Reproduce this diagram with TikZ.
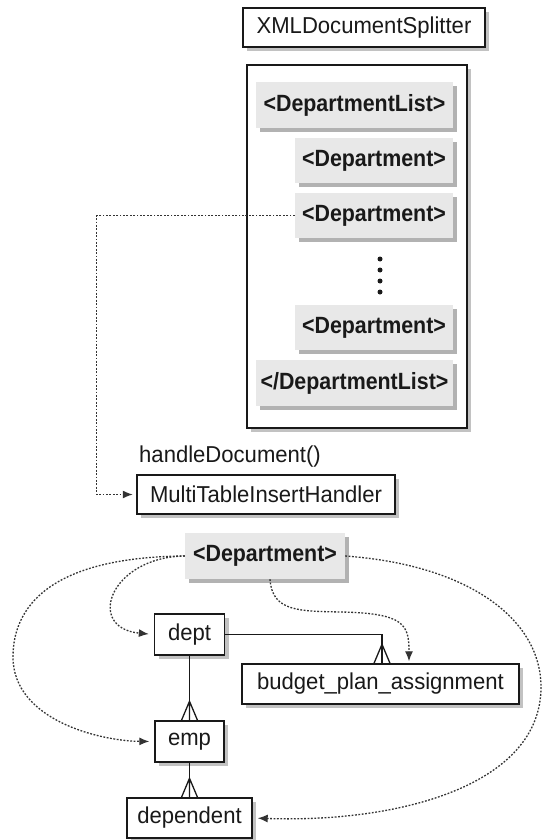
\documentclass[tikz,border=0pt]{standalone}
\usepackage{fontspec}
\setmainfont{Liberation Sans}[FakeStretch=0.96]
\newfontfamily\tagfont{Liberation Sans}[FakeStretch=0.91]
\usetikzlibrary{shadows,arrows.meta,calc}
\newcommand{\crowfoot}[1]{\draw[rel] ($(#1)+(-8,0)$) -- ($(#1)+(0,-19)$) -- ($(#1)+(8,0)$) (#1) -- ($(#1)+(0,-19)$);}
\begin{document}
\begin{tikzpicture}[x=1pt,y=-1pt,
  plainbox/.style={draw=black!90, line width=1.4pt, fill=white, inner sep=0pt, text=black!90,
    font=\fontsize{23}{26}\selectfont,
    drop shadow={shadow xshift=4pt,shadow yshift=-4pt,opacity=1,fill=black!24}},
  thickbox/.style={plainbox, line width=2.5pt},
  tagbox/.style={fill=black!9, inner sep=0pt, text=black!90,
    font=\tagfont\bfseries\fontsize{23.5}{26}\selectfont,
    drop shadow={shadow xshift=4pt,shadow yshift=-4pt,opacity=1,fill=black!30}},
  dotline/.style={line width=1.3pt, black!80, dash pattern=on 1.8pt off 1.6pt},
  dotarrow/.style={dotline, -{Latex[length=10pt,width=8pt]}, shorten >=5pt},
  rel/.style={line width=1.3pt, black!90},
  lbl/.style={inner sep=0pt, text=black!90, font=\fontsize{23}{26}\selectfont}
]
\useasboundingbox (0,0) rectangle (544,840);
\fill[white] (0,0) rectangle (544,840);

% top
\node[thickbox, minimum width=242pt, minimum height=39pt] (xds) at (364,27.5) {XMLDocumentSplitter};
\node[thickbox, minimum width=220pt, minimum height=363pt] (frame) at (357,246.5) {};
\node[tagbox, minimum width=197pt, minimum height=46pt] (dl) at (354.5,105) {<DepartmentList>};
\node[tagbox, minimum width=158pt, minimum height=45pt] (d1) at (374,160.5) {<Department>};
\node[tagbox, minimum width=158pt, minimum height=45pt] (d2) at (374,215.5) {<Department>};
\foreach \yy in {259,270,281,292} \fill[black!90] (380,\yy) circle (2.5pt);
\node[tagbox, minimum width=158pt, minimum height=45pt] (d3) at (374,327.5) {<Department>};
\node[tagbox, minimum width=197pt, minimum height=46pt] (edl) at (354.5,383) {</DepartmentList>};

\node[lbl, anchor=west] (hd) at (139,457) {handleDocument()};
\node[thickbox, minimum width=258pt, minimum height=39pt] (mtih) at (266,494.5) {MultiTableInsertHandler};

\draw[dotline, -{Latex[length=10pt,width=8pt]}, shorten >=3pt] (d2.west) -- ++(-198,0) |- (mtih.west);

% bottom
\node[tagbox, minimum width=160pt, minimum height=46pt] (dep) at (265,556) {<Department>};
\node[plainbox, minimum width=70pt, minimum height=41pt] (dept) at (189.5,634.5) {dept};
\node[plainbox, minimum width=277pt, minimum height=40pt] (bpa) at (380.5,684) {budget\_plan\_assignment};
\node[plainbox, minimum width=69pt, minimum height=41pt] (emp) at (189.5,741.5) {emp};
\node[plainbox, minimum width=125pt, minimum height=40pt] (dependent) at (189.5,818) {dependent};

% relationships
\coordinate (bfoot) at ($(bpa.north)+(1.5,0)$);
\draw[rel] (dept.east) -| (bfoot);
\crowfoot{bfoot}
\draw[rel] (dept.south) -- (emp.north);
\crowfoot{emp.north}
\draw[rel] (emp.south) -- (dependent.north);
\crowfoot{dependent.north}

% dotted flows
\draw[dotarrow] (dep.west) .. controls (110,557) and (85,628) .. (dept.west);
\draw[dotarrow] (dep.west) .. controls (60,557) and (13,600) .. (13,657)
  .. controls (13,720) and (100,741) .. (emp.west);
\draw[dotarrow, shorten >=2pt] ($(dep.south)+(5,0)$) .. controls (272,612) and (300,611) .. (340,612)
  .. controls (405,613) and (409,625) .. ($(bpa.north)+(28.5,0)$);
\draw[dotarrow] (dep.east) .. controls (470,565) and (541,620) .. (541,687)
  .. controls (541,785) and (400,823) .. (dependent.east);
\end{tikzpicture}
\end{document}
